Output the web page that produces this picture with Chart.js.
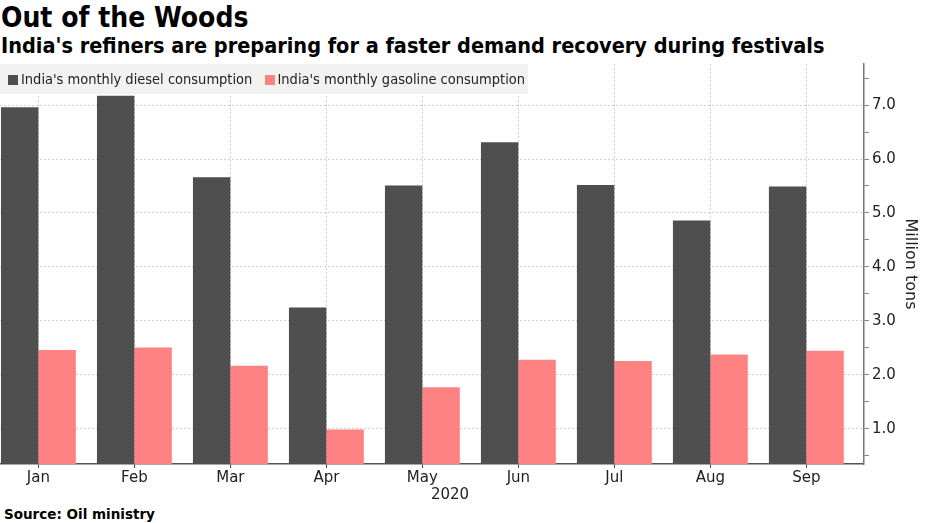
<!DOCTYPE html>
<html lang="en">
<head>
<meta charset="UTF-8">
<title>Out of the Woods</title>
<script src="https://cdn.jsdelivr.net/npm/chart.js"></script>
<style>
    body { margin: 0; width: 930px; height: 523px; background: #fff; position: relative; overflow: hidden; }
    * { font-family: 'DejaVu Sans Condensed', 'DejaVu Sans', sans-serif; color: #000; }
    #title { position: absolute; left: 1px; top: 1px; font-size: 28px; font-weight: bold; }
    #subtitle { position: absolute; left: 1px; top: 33px; font-size: 21.5px; font-weight: bold; }
    #legend { position: absolute; left: 0; top: 64px; width: 528px; height: 30px; background: rgba(240,240,240,0.85);
              font-size: 14.5px; line-height: 30px; color: #222; }
    #legend span.sw { display: inline-block; width: 10px; height: 10px; margin: 0 3px 0 8px; vertical-align: -1px; }
    #year { position: absolute; left: 450px; top: 485px; transform: translateX(-50%); font-family: 'DejaVu Sans'; font-size: 15px; color: #222; }
    #source { position: absolute; left: 4px; top: 506px; font-family: 'DejaVu Sans'; font-size: 13.5px; font-weight: bold; }
    #chartBox { position: absolute; left: 0; top: 52px; width: 939px; height: 436px; }
</style>
</head>
<body>
<div id="title">Out of the Woods</div>
<div id="subtitle">India's refiners are preparing for a faster demand recovery during festivals</div>
<div id="chartBox"><canvas id="chart"></canvas></div>
<div id="legend"><span class="sw" style="background:#4f4f4f"></span>India's monthly diesel consumption <span class="sw" style="background:#ff8282;margin-left:8px"></span>India's monthly gasoline consumption</div>
<div id="year">2020</div>
<div id="source">Source: Oil ministry</div>

<script>
    var months = ['Jan', 'Feb', 'Mar', 'Apr', 'May', 'Jun', 'Jul', 'Aug', 'Sep'];
    var diesel = [6.96, 7.17, 5.66, 3.25, 5.51, 6.31, 5.52, 4.86, 5.49];
    var gasoline = [2.46, 2.51, 2.17, 0.99, 1.77, 2.28, 2.26, 2.38, 2.45];
    var yTicks = [0.5, 1, 1.5, 2, 2.5, 3, 3.5, 4, 4.5, 5, 5.5, 6, 6.5, 7, 7.5];

    function toPoints(values) {
        return values.map(function (v, i) { return { x: i, y: v }; });
    }

    var ctx = document.getElementById('chart').getContext('2d');
    var chart = new Chart(ctx, {
        type: 'bar',
        data: {
            datasets: [
                { label: "India's monthly diesel consumption", data: toPoints(diesel), backgroundColor: '#4f4f4f' },
                { label: "India's monthly gasoline consumption", data: toPoints(gasoline), backgroundColor: '#ff8282' }
            ]
        },
        options: {
            responsive: true,
            maintainAspectRatio: false,
            animation: false,
            layout: { padding: { top: 4, right: 0, left: 0, bottom: 0 } },
            categoryPercentage: 0.78,
            barPercentage: 1.0,
            plugins: { legend: { display: false }, tooltip: { enabled: false } },
            scales: {
                x: {
                    type: 'linear',
                    offset: false,
                    min: -0.4,
                    max: 8.6,
                    afterBuildTicks: function (s) { s.ticks = months.map(function (m, i) { return { value: i }; }); },
                    ticks: {
                        callback: function (v) { return months[v]; },
                        font: { family: 'DejaVu Sans', size: 15 },
                        color: '#222',
                        padding: 1,
                        maxRotation: 0
                    },
                    grid: { offset: false, color: '#d0d0d0', tickColor: '#444', tickLength: 4, drawOnChartArea: true },
                    border: { color: '#555', width: 1.5, dash: [2, 2] }
                },
                y: {
                    position: 'right',
                    min: 0.35,
                    max: 7.76,
                    afterBuildTicks: function (s) { s.ticks = yTicks.map(function (v) { return { value: v }; }); },
                    ticks: {
                        callback: function (v) { return v % 1 === 0 ? v.toFixed(1) : ''; },
                        font: { family: 'DejaVu Sans', size: 15 },
                        color: '#222',
                        padding: 3
                    },
                    grid: {
                        color: function (c) { return c.tick && c.tick.value % 1 === 0 ? '#d0d0d0' : 'rgba(0,0,0,0)'; },
                        tickColor: '#888',
                        tickLength: 5
                    },
                    border: { color: '#777', width: 1.5, dash: [2, 2] },
                    title: {
                        display: true,
                        text: 'Million tons',
                        font: { family: 'DejaVu Sans', size: 16 },
                        color: '#222',
                        padding: { top: 19, bottom: 2 }
                    }
                }
            }
        }
    });
</script>
</body>
</html>
